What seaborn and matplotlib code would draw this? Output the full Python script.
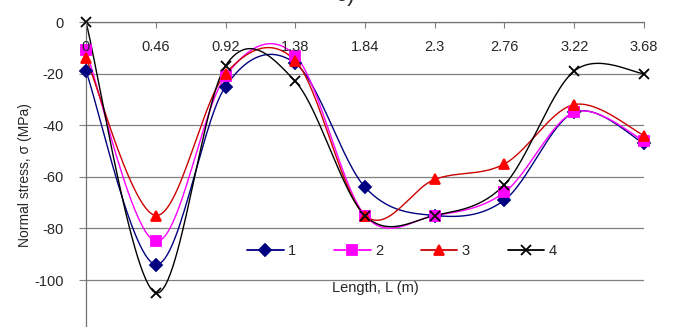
import numpy as np
import pandas as pd
import matplotlib
matplotlib.use("Agg")
import matplotlib.pyplot as plt
from matplotlib.lines import Line2D
import seaborn as sns

# ---- data ----
lengths = [0, 0.46, 0.92, 1.38, 1.84, 2.3, 2.76, 3.22, 3.68]
tick_labels = ["0", "0.46", "0.92", "1.38", "1.84", "2.3", "2.76", "3.22", "3.68"]
s1 = [-19, -94, -25, -16, -64, -75, -69, -35, -47]
s2 = [-11, -85, -21, -13, -75, -75, -66, -35, -46]
s3 = [-14, -75, -20, -15, -75, -61, -55, -32, -44]
s4 = [0, -105, -17, -23, -75, -75, -63, -19, -20]
series_names = ["1", "2", "3", "4"]

sns.set_style("white")
plt.rcParams['font.family'] = ['Liberation Sans', 'DejaVu Sans']

def smooth(x, y, n=30):
    # Excel-style smoothed line (cubic Bezier with Catmull-Rom control points)
    x = np.asarray(x, float); y = np.asarray(y, float)
    P = np.column_stack([x, y])
    out = []
    for i in range(len(P) - 1):
        p0 = P[i - 1] if i > 0 else P[i]
        p1 = P[i]; p2 = P[i + 1]
        p3 = P[i + 2] if i + 2 < len(P) else P[i + 1]
        c1 = p1 + (p2 - p0) / 6.0
        c2 = p2 - (p3 - p1) / 6.0
        t = np.linspace(0, 1, n)[:, None]
        seg = ((1 - t) ** 3) * p1 + 3 * ((1 - t) ** 2) * t * c1 + 3 * (1 - t) * t ** 2 * c2 + t ** 3 * p2
        out.append(seg if i == 0 else seg[1:])
    s = np.vstack(out)
    return s[:, 0], s[:, 1]

W, H = 674, 327
ax_left, ax_right, ax_top, ax_bot = 86, 644, 22, 331.6
fig = plt.figure(figsize=(W / 100, H / 100), dpi=100)
ax = fig.add_axes([ax_left / W, (H - ax_bot) / H, (ax_right - ax_left) / W, (ax_bot - ax_top) / H])

styles = [
    dict(color="#000080", marker="D", ms=6, lc="#000080"),
    dict(color="#FF00FF", marker="s", ms=6.5, lc="#FF00FF"),
    dict(color="#FF0000", marker="^", ms=7.5, lc="#CC0000"),
    dict(color="#000000", marker="x", ms=7.5, lc="#000000"),
]
handles = []
for vals, name, st in zip([s1, s2, s3, s4], series_names, styles):
    sx, sy = smooth(lengths, vals)
    sns.lineplot(x=sx, y=sy, sort=False, ax=ax, color=st["lc"], lw=1.0, estimator=None)
    ax.plot(lengths, vals, linestyle="none", marker=st["marker"], ms=st["ms"],
            color=st["color"], mec=st["color"], mew=1.3, clip_on=False, zorder=5)
    handles.append(Line2D([0], [0], color=st["lc"], lw=1.3, marker=st["marker"],
                          ms=st["ms"], mfc=st["color"], mec=st["color"], mew=1.3))

ax.set_xlim(0, 3.68)
ax.set_ylim(-120, 0)
ax.set_xticks(lengths)
ax.set_xticklabels(tick_labels)
ax.set_yticks([0, -20, -40, -60, -80, -100, -120])
ax.set_yticklabels(["0", "-20", "-40", "-60", "-80", "-100", "-120"])
ax.xaxis.set_ticks_position("top")
ax.tick_params(axis="x", direction="in", length=4, pad=-13, labelsize=10.5, top=True,
               bottom=False, color="#808080")
ax.tick_params(axis="y", direction="out", length=5, pad=11, labelsize=10.5, left=True, color="#808080")
for lab in ax.get_xticklabels():
    lab.set_verticalalignment("top")
ax.xaxis.set_zorder(6)
ax.grid(axis="y", color="#808080", lw=0.9)
ax.grid(axis="x", visible=False)
for side in ["right", "bottom"]:
    ax.spines[side].set_visible(False)
for side in ["left", "top"]:
    ax.spines[side].set_color("#707070")
    ax.spines[side].set_linewidth(0.9)

fig.text(25 / W, 1 - 175 / H, "Normal stress, σ (MPa)", rotation=90, ha="center", va="center", fontsize=10)
fig.text(375 / W, 1 - 288 / H, "Length, L (m)", ha="center", va="center", fontsize=10.5)
fig.text(345 / W, 1 + 4 / H, "c)", ha="center", va="center", fontsize=16)

ax.legend(handles, series_names, loc="center",
          bbox_to_anchor=((402 - ax_left) / (ax_right - ax_left), (ax_bot - 251) / (ax_bot - ax_top)),
          ncol=4, frameon=False, fontsize=10.5, handlelength=2.5, columnspacing=2.6, handletextpad=0.3)

fig.savefig("out.png", dpi=100)
